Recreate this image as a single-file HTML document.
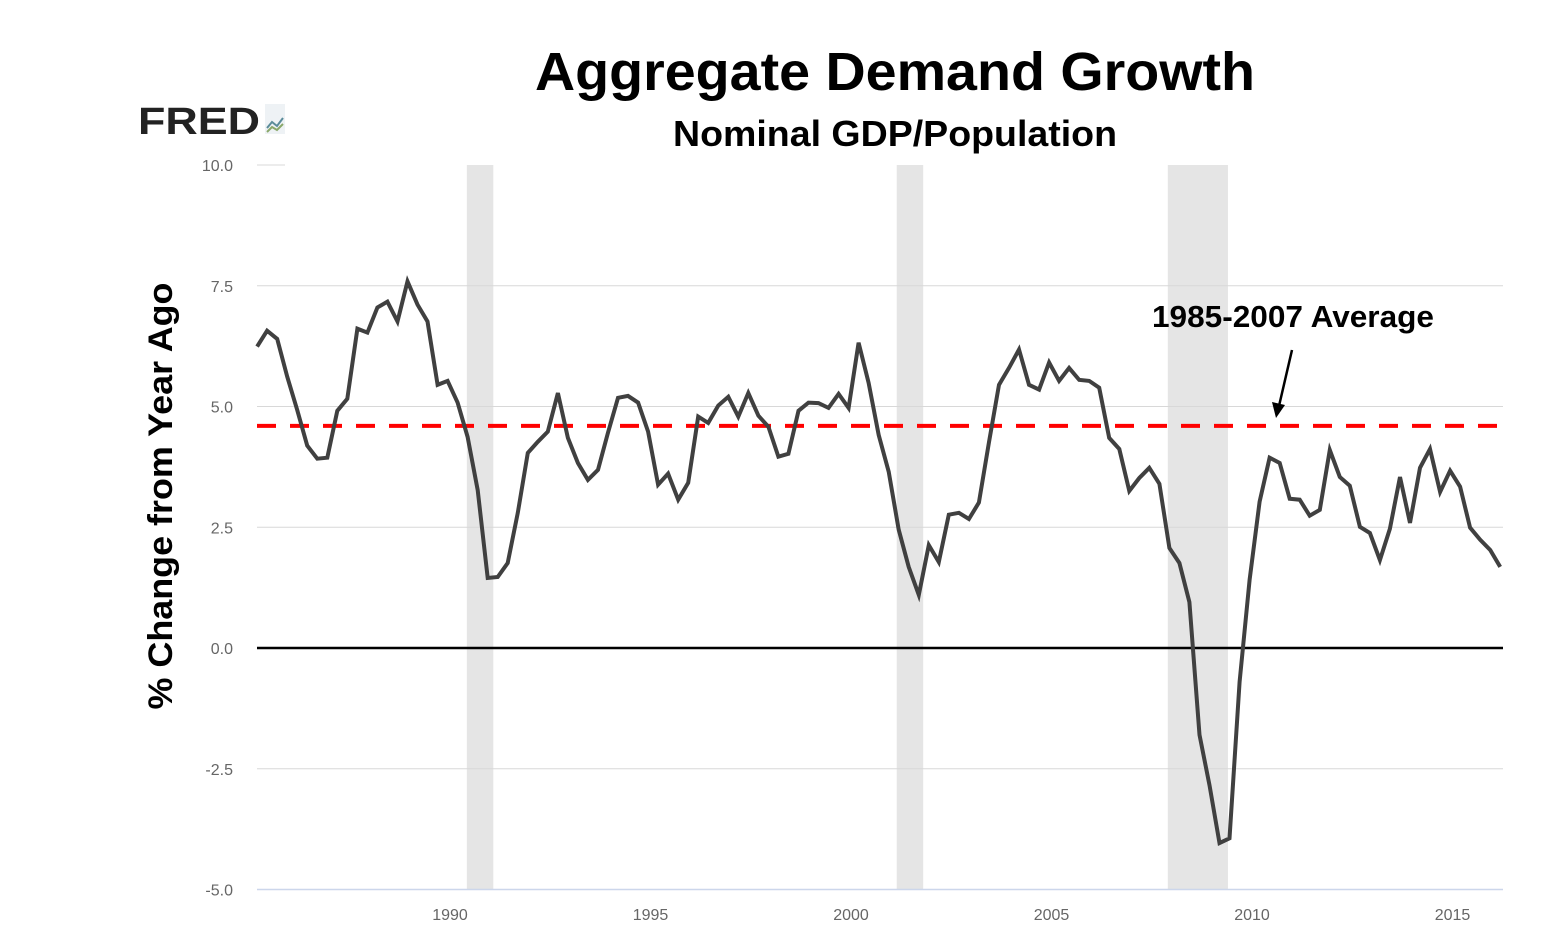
<!DOCTYPE html>
<html><head><meta charset="utf-8"><style>
body{margin:0;background:#fff;}
svg text{font-family:"Liberation Sans",sans-serif;}
</style></head><body>
<svg width="1550" height="942" viewBox="0 0 1550 942" xmlns="http://www.w3.org/2000/svg">
<g id="rec"></g>
<g id="grid"></g>
<g id="yt"></g>
<g id="xt"></g>
<line id="zero" stroke="#000" stroke-width="2.5"/>
<line id="avg" stroke="#ff0000" stroke-width="4" stroke-dasharray="19,14"/>
<path id="series" fill="none" stroke="#404040" stroke-width="4" stroke-linejoin="miter"/>
<text x="895" y="90" text-anchor="middle" font-size="54" font-weight="bold" textLength="720" lengthAdjust="spacingAndGlyphs">Aggregate Demand Growth</text>
<text x="895" y="146" text-anchor="middle" font-size="36" font-weight="bold" textLength="444" lengthAdjust="spacingAndGlyphs">Nominal GDP/Population</text>
<text transform="translate(172,496) rotate(-90)" text-anchor="middle" font-size="34" font-weight="bold" textLength="427" lengthAdjust="spacingAndGlyphs">% Change from Year Ago</text>
<g>
<text x="138" y="134" font-size="38" font-weight="900" fill="#222" textLength="122" lengthAdjust="spacingAndGlyphs">FRED</text>
<rect x="265" y="104" width="20" height="30" fill="#eef2f5"/>
<polyline points="267,128 272,122 277,126 283,118" fill="none" stroke="#5b8c9a" stroke-width="2"/>
<polyline points="267,132 272,127 277,130 283,124" fill="none" stroke="#8aa86a" stroke-width="2"/>
</g>
<g>
<text x="1152" y="327" font-size="31" font-weight="bold" textLength="282" lengthAdjust="spacingAndGlyphs">1985-2007 Average</text>
<line x1="1292" y1="350" x2="1279" y2="406" stroke="#000" stroke-width="2.5"/>
<polygon points="1276,418 1272,402 1285,405" fill="#000"/>
</g>
</svg>
<script>
const startYear = 1985.19;
const values = [6.24,6.57,6.40,5.62,4.93,4.19,3.92,3.94,4.91,5.16,6.61,6.53,7.05,7.17,6.76,7.59,7.11,6.76,5.45,5.53,5.08,4.37,3.27,1.45,1.47,1.76,2.80,4.04,4.27,4.48,5.28,4.35,3.83,3.48,3.69,4.46,5.18,5.22,5.08,4.48,3.38,3.61,3.07,3.42,4.79,4.66,5.02,5.20,4.79,5.28,4.81,4.58,3.96,4.02,4.91,5.08,5.07,4.97,5.26,4.97,6.32,5.49,4.41,3.65,2.45,1.68,1.10,2.13,1.78,2.76,2.80,2.67,3.01,4.25,5.45,5.80,6.18,5.45,5.35,5.91,5.53,5.80,5.55,5.53,5.39,4.35,4.12,3.25,3.52,3.73,3.40,2.07,1.76,0.95,-1.80,-2.84,-4.04,-3.94,-0.70,1.41,3.03,3.94,3.83,3.09,3.07,2.74,2.86,4.10,3.54,3.36,2.51,2.38,1.82,2.47,3.54,2.59,3.73,4.12,3.23,3.67,3.34,2.49,2.24,2.03,1.68];
const average = 4.6;
const recessions = [[1990.42,1991.08],[2001.14,2001.8],[2007.9,2009.4]];
const yTicks = [10,7.5,5,2.5,0,-2.5,-5];
const yTickLabels = ["10.0","7.5","5.0","2.5","0.0","-2.5","-5.0"];
const xTicks = [1990,1995,2000,2005,2010,2015];
const NS="http://www.w3.org/2000/svg";
const L=257,R=1503;
function xs(t){return 450+(t-1990)*40.1;}
function ys(v){return 648-v*48.3;}
function mk(tag,attrs,parent){const e=document.createElementNS(NS,tag);for(const k in attrs)e.setAttribute(k,attrs[k]);document.getElementById(parent).appendChild(e);return e;}
recessions.forEach(r=>{
  const e=mk('rect',{x:xs(r[0]),y:ys(10),width:xs(r[1])-xs(r[0]),height:ys(-5)-ys(10),fill:'#e5e5e5'},'rec');
  
  
});
yTicks.forEach((v,i)=>{
  const y=ys(v);
  if(v!==0){
    const isTop=i===0, isBot=v===-5;
    const g=mk('line',{x1:L,x2:isTop?285:R,y1:y,y2:y,stroke:isBot?'#ccd6eb':'#d8d8d8','stroke-width':isBot?1.5:1},'grid');
    
    
  }
  const t=mk('text',{x:233,y:y+6,'text-anchor':'end','font-size':16,fill:'#666'},'yt');
  t.textContent=yTickLabels[i];
  
  
});
xTicks.forEach(yr=>{
  const t=mk('text',{x:xs(yr),y:920,'text-anchor':'middle','font-size':16,fill:'#666'},'xt');
  t.textContent=String(yr);
  
  
});
const z=document.getElementById('zero');
z.setAttribute('x1',L);z.setAttribute('x2',R);z.setAttribute('y1',ys(0));z.setAttribute('y2',ys(0));
const a=document.getElementById('avg');
a.setAttribute('x1',L);a.setAttribute('x2',R);a.setAttribute('y1',ys(average));a.setAttribute('y2',ys(average));
let d='';
values.forEach((v,i)=>{d+=(i?'L':'M')+xs(startYear+i*0.25).toFixed(1)+','+ys(v).toFixed(1);});
document.getElementById('series').setAttribute('d',d);
</script>
</body></html>
